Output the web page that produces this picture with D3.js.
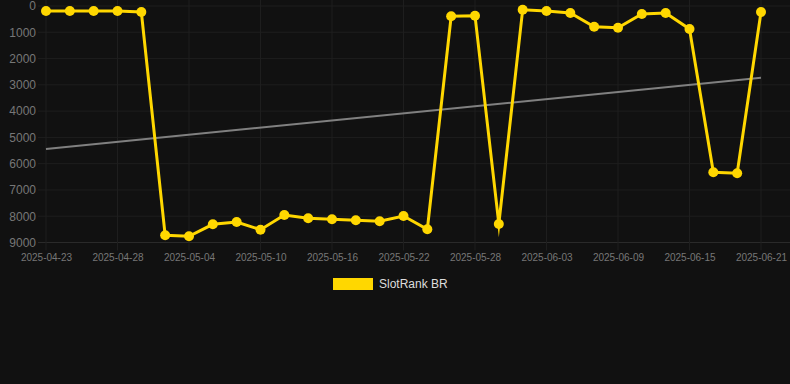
<!DOCTYPE html>
<html>
<head>
<meta charset="utf-8">
<script src="https://cdn.jsdelivr.net/npm/d3@7"></script>
<style>
  html, body { margin: 0; padding: 0; background: #111111; }
  svg { display: block; font-family: "Liberation Sans", Arial, Helvetica, sans-serif; }
</style>
</head>
<body>
<div id="chart"></div>
<script>
// dates of the points (only every third one is labelled)
const dates = [
    "2025-04-23", "2025-04-25", "2025-04-26", "2025-04-28", "2025-04-30", "2025-05-02",
    "2025-05-04", "2025-05-06", "2025-05-08", "2025-05-10", "2025-05-12", "2025-05-14",
    "2025-05-16", "2025-05-18", "2025-05-20", "2025-05-22", "2025-05-24", "2025-05-26",
    "2025-05-28", "2025-05-30", "2025-06-01", "2025-06-03", "2025-06-05", "2025-06-07",
    "2025-06-09", "2025-06-11", "2025-06-13", "2025-06-15", "2025-06-17", "2025-06-19",
    "2025-06-21"
];
// SlotRank BR rank values
const ranks = [
    190, 190, 190, 190, 228, 8726,
    8763, 8307, 8219, 8512, 7953, 8079,
    8117, 8155, 8193, 7991, 8497, 392,
    369, 8295, 141, 190, 266, 788,
    826, 304, 266, 875, 6328, 6366,
    228
];
// trend line start / end value
const trend = [5440, 2730];
const yTicks = [0, 1000, 2000, 3000, 4000, 5000, 6000, 7000, 8000, 9000];
const seriesName = "SlotRank BR";

const width = 790;
const height = 384;
const plot = {left: 46, right: 761, top: 6, bottom: 242.5};
const lineColor = "#FFD700";

let svg = d3.select("#chart")
    .append("svg")
    .attr("width", width)
    .attr("height", height);

let xScale = d3.scalePoint()
    .domain(dates)
    .range([plot.left, plot.right]);

let yScale = d3.scaleLinear()
    .domain([0, 9000])
    .range([plot.top, plot.bottom]);

let labelDates = dates.filter(function (d, i) { return i % 3 === 0; });

// horizontal grid
svg.append("g")
    .attr("class", "hgrid")
    .selectAll("line")
    .data(yTicks)
    .enter()
    .append("line")
    .attr("x1", plot.left - 8)
    .attr("x2", width)
    .attr("y1", function (d) { return yScale(d); })
    .attr("y2", function (d) { return yScale(d); })
    .attr("stroke", function (d) { return d === 9000 ? "#2a2a2a" : "#1e1e1e"; })
    .attr("stroke-width", 1);

// vertical grid
svg.append("g")
    .attr("class", "vgrid")
    .selectAll("line")
    .data(labelDates)
    .enter()
    .append("line")
    .attr("x1", function (d) { return xScale(d); })
    .attr("x2", function (d) { return xScale(d); })
    .attr("y1", 0)
    .attr("y2", plot.bottom + 8)
    .attr("stroke", "#1e1e1e")
    .attr("stroke-width", 1);

// y axis labels
let yAxis = d3.axisLeft(yScale)
    .tickValues(yTicks)
    .tickSize(0)
    .tickPadding(10)
    .tickFormat(d3.format("d"));

let yG = svg.append("g")
    .attr("class", "yAxis")
    .attr("transform", "translate(" + plot.left + ",0)")
    .call(yAxis);
yG.select(".domain").remove();
yG.selectAll("text")
    .attr("fill", "#777")
    .style("font-size", "12px");

// x axis labels
let xAxis = d3.axisBottom(xScale)
    .tickValues(labelDates)
    .tickSize(0)
    .tickPadding(11);

let xG = svg.append("g")
    .attr("class", "xAxis")
    .attr("transform", "translate(0," + plot.bottom + ")")
    .call(xAxis);
xG.select(".domain").remove();
xG.selectAll("text")
    .attr("fill", "#777")
    .style("font-size", "10px");

// trend line
svg.append("line")
    .attr("class", "trend")
    .attr("x1", xScale(dates[0]))
    .attr("x2", xScale(dates[dates.length - 1]))
    .attr("y1", yScale(trend[0]))
    .attr("y2", yScale(trend[1]))
    .attr("stroke", "#808080")
    .attr("stroke-width", 2);

// rank line
let line = d3.line()
    .x(function (d, i) { return xScale(dates[i]); })
    .y(function (d) { return yScale(d); });

svg.append("path")
    .datum(ranks)
    .attr("class", "rankLine")
    .attr("d", line)
    .attr("fill", "none")
    .attr("stroke", lineColor)
    .attr("stroke-width", 3)
    .attr("stroke-linejoin", "miter")
    .attr("stroke-miterlimit", 10);

svg.append("g")
    .attr("class", "points")
    .selectAll("circle")
    .data(ranks)
    .enter()
    .append("circle")
    .attr("cx", function (d, i) { return xScale(dates[i]); })
    .attr("cy", function (d) { return yScale(d); })
    .attr("r", 5)
    .attr("fill", lineColor);

// legend
let legend = svg.append("g")
    .attr("class", "legend")
    .attr("transform", "translate(333,278)");

legend.append("rect")
    .attr("width", 40)
    .attr("height", 12)
    .attr("fill", lineColor);

legend.append("text")
    .attr("x", 46)
    .attr("y", 6)
    .attr("dy", "0.35em")
    .attr("fill", "#ddd")
    .style("font-size", "12px")
    .text(seriesName);
</script>
</body>
</html>
